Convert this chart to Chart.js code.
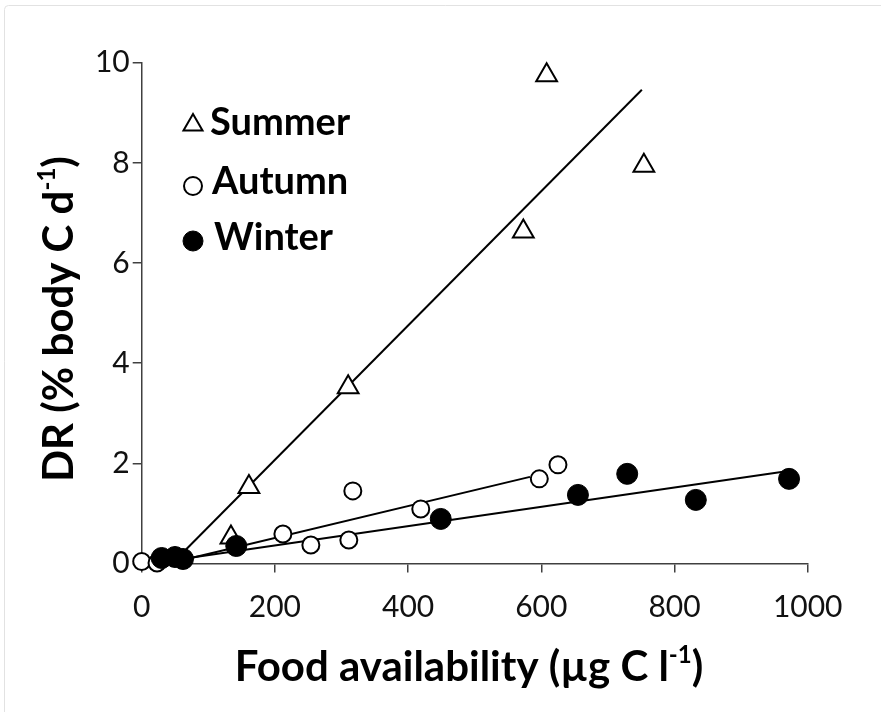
<!DOCTYPE html>
<html lang="en">
<head>
<meta charset="UTF-8">
<title>DR vs food availability</title>
<script src="https://cdn.jsdelivr.net/npm/chart.js"></script>
<style>
  html, body { margin: 0; padding: 0; background: #fff; }
  #wrap { position: relative; width: 881px; height: 712px; }
</style>
</head>
<body>
<div id="wrap"><canvas id="drChart" width="881" height="712"></canvas></div>
<script>
  // food availability (µg C l-1) against DR (% body C d-1), one pair of arrays per season
  const summerX = [134, 161, 310, 573, 608, 754];
  const summerY = [0.52, 1.53, 3.52, 6.63, 9.75, 7.94];
  const autumnX = [0, 23, 212, 254, 311, 317, 419, 597, 625];
  const autumnY = [0.04, 0.01, 0.59, 0.37, 0.47, 1.45, 1.09, 1.69, 1.97];
  const winterX = [30, 50, 62, 142, 449, 655, 729, 832, 972];
  const winterY = [0.11, 0.13, 0.09, 0.35, 0.89, 1.37, 1.79, 1.27, 1.69];

  // end points of the fitted lines
  const summerFitX = [65, 751];
  const summerFitY = [0.26, 9.46];
  const autumnFitX = [65, 583];
  const autumnFitY = [0.08, 1.73];
  const winterFitX = [65, 963];
  const winterFitY = [0.10, 1.83];

  const xTicks = [0, 200, 400, 600, 800, 1000];
  const yTicks = [0, 2, 4, 6, 8, 10];

  const FONT = 'Lato';
  const AXIS = '#404040';

  const pts = (xs, ys) => xs.map((x, i) => ({ x: x, y: ys[i] }));

  const fit = (xs, ys, order) => ({
    data: pts(xs, ys),
    showLine: true,
    borderColor: '#000',
    borderWidth: 2,
    pointRadius: 0,
    clip: false,
    order: order
  });

  // draws a string made of normal and superscript pieces, centred on x
  function drawRich(ctx, parts, size, x, y) {
    const supSize = Math.round(size * 0.58);
    let total = 0;
    parts.forEach(p => {
      ctx.font = `bold ${p.sup ? supSize : size}px ${FONT}`;
      p.w = ctx.measureText(p.t).width;
      total += p.w;
    });
    let cx = x - total / 2;
    parts.forEach(p => {
      ctx.font = `bold ${p.sup ? supSize : size}px ${FONT}`;
      ctx.fillText(p.t, cx, p.sup ? y - size * 0.42 : y);
      cx += p.w;
    });
  }

  const decorations = {
    id: 'decorations',
    afterDraw(chart) {
      const ctx = chart.ctx;
      ctx.save();

      // faint frame
      ctx.strokeStyle = '#e2e2e2';
      ctx.lineWidth = 1;
      ctx.beginPath();
      ctx.roundRect(4.5, 5.5, 1000, 1000, 4);
      ctx.stroke();

      ctx.fillStyle = '#000';
      ctx.textAlign = 'left';
      ctx.textBaseline = 'alphabetic';

      // x title
      drawRich(ctx, [
        { t: 'Food availability (\u00b5g C l' },
        { t: '-1', sup: true },
        { t: ')' }
      ], 42, 469, 681);

      // y title
      ctx.save();
      ctx.translate(73, 319);
      ctx.rotate(-Math.PI / 2);
      drawRich(ctx, [
        { t: 'DR (% body C d' },
        { t: '-1', sup: true },
        { t: ')' }
      ], 42, 0, 0);
      ctx.restore();

      // season key
      const keyRows = [125, 186, 241];
      const keyBase = [135, 194, 250];
      const keyLeft = [210, 212, 214];
      chart.data.datasets.filter(d => d.label).forEach((d, i) => {
        ctx.fillStyle = d.backgroundColor;
        ctx.strokeStyle = d.borderColor;
        ctx.lineWidth = d.borderWidth;
        Chart.helpers.drawPoint(ctx, {
          pointStyle: d.pointStyle,
          radius: d.keyRadius,
          borderWidth: d.borderWidth,
          rotation: 0
        }, 193, keyRows[i]);
        ctx.fillStyle = '#000';
        ctx.font = `bold 38px ${FONT}`;
        ctx.fillText(d.label, keyLeft[i], keyBase[i]);
      });

      ctx.restore();
    }
  };

  new Chart(document.getElementById('drChart'), {
    type: 'scatter',
    data: {
      datasets: [
        {
          label: 'Summer',
          data: pts(summerX, summerY),
          pointStyle: 'triangle',
          pointRadius: 12,
          keyRadius: 11,
          backgroundColor: '#fff',
          borderColor: '#000',
          borderWidth: 2,
          clip: false,
          order: 2
        },
        {
          label: 'Autumn',
          data: pts(autumnX, autumnY),
          pointStyle: 'circle',
          pointRadius: 8.5,
          keyRadius: 9,
          backgroundColor: '#fff',
          borderColor: '#000',
          borderWidth: 2,
          clip: false,
          order: 1
        },
        {
          label: 'Winter',
          data: pts(winterX, winterY),
          pointStyle: 'circle',
          pointRadius: 10.5,
          keyRadius: 10,
          backgroundColor: '#000',
          borderColor: '#000',
          borderWidth: 1,
          clip: false,
          order: 0
        },
        fit(summerFitX, summerFitY, 3),
        fit(autumnFitX, autumnFitY, 4),
        fit(winterFitX, winterFitY, 5)
      ]
    },
    options: {
      responsive: false,
      animation: false,
      layout: { padding: { left: 0, top: 62.7, right: 73.3, bottom: 0 } },
      plugins: {
        legend: { display: false },
        tooltip: { enabled: false }
      },
      scales: {
        x: {
          type: 'linear',
          min: 0,
          max: 1000,
          afterBuildTicks: s => { s.ticks = xTicks.map(v => ({ value: v })); },
          afterFit: s => { s.height = 148.5; },
          border: { color: AXIS, width: 1.5 },
          grid: { drawOnChartArea: false, tickLength: 9, color: AXIS, lineWidth: 1.5 },
          ticks: { font: { family: FONT, size: 30 }, color: '#111', padding: 17, maxRotation: 0, callback: v => String(v) }
        },
        y: {
          type: 'linear',
          min: 0,
          max: 10,
          afterBuildTicks: s => { s.ticks = yTicks.map(v => ({ value: v })); },
          afterFit: s => { s.width = 141.7; },
          border: { color: AXIS, width: 1.5 },
          grid: { drawOnChartArea: false, tickLength: 9, color: AXIS, lineWidth: 1.5 },
          ticks: { font: { family: FONT, size: 30 }, color: '#111', padding: 3, callback: v => String(v) }
        }
      }
    },
    plugins: [decorations]
  });
</script>
</body>
</html>
